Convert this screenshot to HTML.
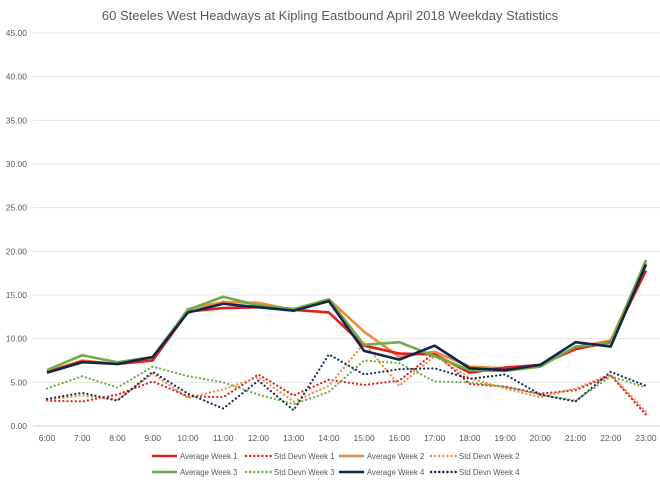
<!DOCTYPE html>
<html><head><meta charset="utf-8"><style>
body{margin:0;background:#fff;font-family:"Liberation Sans",sans-serif}
svg text{fill:#595959}
</style></head><body>
<svg width="660" height="483">
<text x="330" y="20" text-anchor="middle" font-size="13">60 Steeles West Headways at Kipling Eastbound April 2018 Weekday Statistics</text>
<g id="grid"></g><g id="series"></g><g id="legend"></g>
</svg>
<script>
const categories=["6:00","7:00","8:00","9:00","10:00","11:00","12:00","13:00","14:00","15:00","16:00","17:00","18:00","19:00","20:00","21:00","22:00","23:00"];
const yTicks=[0,5,10,15,20,25,30,35,40,45];
const avg1=[6.2,7.4,7.1,7.5,13.1,13.5,13.6,13.3,13.0,9.2,8.3,8.2,6.1,6.7,7.0,8.8,9.6,17.8];
const avg2=[6.2,7.5,7.1,7.6,13.4,14.2,14.1,13.3,14.5,10.8,7.9,8.5,6.8,6.6,7.0,9.0,9.8,18.7];
const avg3=[6.4,8.1,7.3,7.9,13.3,14.8,13.8,13.4,14.5,9.3,9.6,8.0,6.4,6.3,6.8,9.1,9.5,19.0];
const avg4=[6.1,7.3,7.1,7.9,13.0,14.0,13.6,13.2,14.3,8.6,7.6,9.2,6.6,6.4,7.0,9.6,9.1,18.5];
const std1=[2.9,2.8,3.6,5.1,3.4,3.3,5.9,3.5,5.3,4.7,5.2,8.4,4.8,4.5,3.7,4.1,5.8,1.3];
const std2=[3.0,3.5,3.0,6.0,3.2,4.2,5.6,2.8,4.6,9.5,4.6,8.0,5.5,4.3,3.3,4.3,5.9,1.6];
const std3=[4.3,5.7,4.4,6.8,5.7,5.0,3.6,2.5,3.9,7.5,7.2,5.1,5.0,4.5,3.6,2.9,5.7,4.4];
const std4=[3.1,3.8,2.9,6.2,3.7,2.0,5.2,1.8,8.2,5.9,6.5,6.6,5.4,5.9,3.6,2.8,6.2,4.6];
const seriesNames=["Average Week 1","Std Devn Week 1","Average Week 2","Std Devn Week 2","Average Week 3","Std Devn Week 3","Average Week 4","Std Devn Week 4"];
const NS="http://www.w3.org/2000/svg";
const x0=47,x1=646,yb=426,yt=33,yMax=45;
const xs=i=>x0+i*(x1-x0)/(categories.length-1);
const ys=v=>yb-v/yMax*(yb-yt);
function mk(t,a,p){const e=document.createElementNS(NS,t);for(const k in a)e.setAttribute(k,a[k]);p.appendChild(e);return e;}
const grid=document.getElementById('grid');
yTicks.forEach(v=>{
 const l=mk('line',{x1:33,x2:660,y1:ys(v),y2:ys(v),stroke:v===0?'#d0d0d0':'#e4e4e4','stroke-width':1},grid);
 
 
 const t=mk('text',{x:27,y:ys(v)+3,'text-anchor':'end','font-size':8.5},grid);
 t.textContent=v.toFixed(2);
 
 
});
categories.forEach((c,i)=>{
 const t=mk('text',{x:xs(i),y:441,'text-anchor':'middle','font-size':8.5},grid);
 t.textContent=c;
 
 
});
const defs=[[std1,'#e0201c',true],[std2,'#ed8c3f',true],[std3,'#70ad47',true],[std4,'#1b2f5e',true],[avg2,'#ed8c3f',false],[avg1,'#e0201c',false],[avg3,'#70ad47',false],[avg4,'#13254f',false]];
const sg=document.getElementById('series');
defs.forEach(([d,c,dot])=>{
 const p=mk('polyline',{points:d.map((v,i)=>xs(i)+','+ys(v)).join(' '),fill:'none',stroke:c,'stroke-width':dot?2.2:2.6,'stroke-linejoin':'round'},sg);
 if(dot){p.setAttribute('stroke-dasharray','0.1 4');p.setAttribute('stroke-linecap','round');}
 
 
});
const lg=document.getElementById('legend');
const lcol=['#e0201c','#e0201c','#ed8c3f','#ed8c3f','#70ad47','#70ad47','#13254f','#13254f'];
const lx=[152,246,339,431];
seriesNames.forEach((n,i)=>{
 const y=i<4?456:472;const x=lx[i%4];
 const g=mk('g',{},lg);
 
 
 const l=mk('line',{x1:x,x2:x+25,y1:y,y2:y,stroke:lcol[i],'stroke-width':2.4},g);
 if(i%2){l.setAttribute('stroke-dasharray','0.1 4');l.setAttribute('stroke-linecap','round');}
 const t=mk('text',{x:x+28,y:y+3,'font-size':7.8},g);t.textContent=n;
});
</script>
</body></html>
